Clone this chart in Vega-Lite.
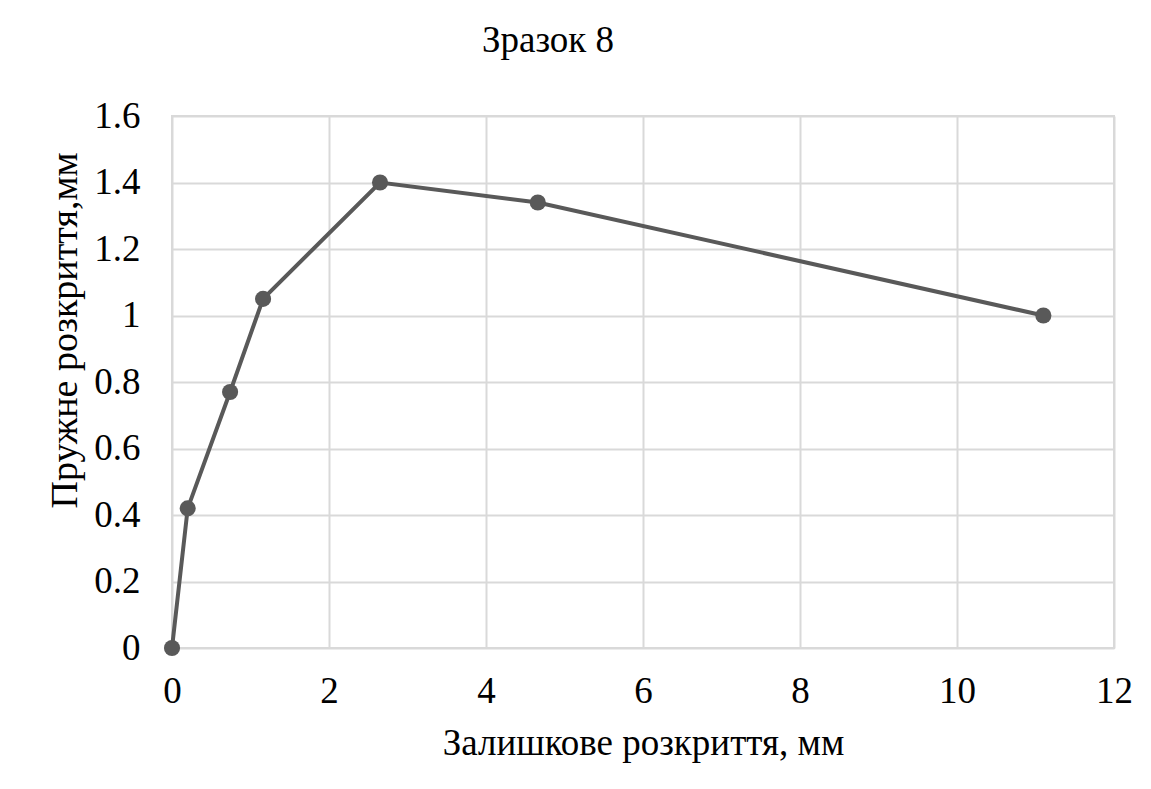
{
  "$schema": "https://vega.github.io/schema/vega-lite/v6.json",
  "autosize": {"type": "none"},
  "width": 942,
  "height": 532,
  "padding": {"left": 172, "top": 116, "right": 37, "bottom": 141},
  "background": "white",
  "title": {
    "text": "Зразок 8",
    "font": "'Liberation Serif', 'Times New Roman', serif",
    "fontSize": 37,
    "fontWeight": "normal",
    "color": "#000000",
    "anchor": "middle",
    "dx": -95,
    "offset": 37
  },
  "data": {
    "values": [
      {"x": 0, "y": 0},
      {"x": 0.2, "y": 0.42},
      {"x": 0.74, "y": 0.77},
      {"x": 1.16, "y": 1.05},
      {"x": 2.65, "y": 1.40},
      {"x": 4.66, "y": 1.34},
      {"x": 11.1, "y": 1.0}
    ]
  },
  "mark": {
    "type": "line",
    "color": "#595959",
    "strokeWidth": 4,
    "point": {"filled": true, "size": 260, "color": "#595959", "opacity": 1}
  },
  "encoding": {
    "x": {
      "field": "x",
      "type": "quantitative",
      "scale": {"domain": [0, 12], "nice": false, "zero": true},
      "axis": {
        "values": [0, 2, 4, 6, 8, 10, 12],
        "title": "Залишкове розкриття, мм",
        "titleFont": "'Liberation Serif', 'Times New Roman', serif",
        "titleFontSize": 37,
        "titleFontWeight": "normal",
        "titleColor": "#000000",
        "titlePadding": 16,
        "labelFont": "'Liberation Serif', 'Times New Roman', serif",
        "labelFontSize": 37,
        "labelColor": "#000000",
        "labelPadding": 25,
        "labelFlush": false,
        "ticks": false,
        "domain": false,
        "grid": true,
        "gridColor": "#d9d9d9",
        "gridWidth": 2
      }
    },
    "y": {
      "field": "y",
      "type": "quantitative",
      "scale": {"domain": [0, 1.6], "nice": false},
      "axis": {
        "values": [0, 0.2, 0.4, 0.6, 0.8, 1, 1.2, 1.4, 1.6],
        "format": "~g",
        "title": "Пружне розкриття,мм",
        "titleFont": "'Liberation Serif', 'Times New Roman', serif",
        "titleFontSize": 38,
        "titleFontWeight": "normal",
        "titleColor": "#000000",
        "titleY": 214,
        "titleX": -88,
        "labelFont": "'Liberation Serif', 'Times New Roman', serif",
        "labelFontSize": 37,
        "labelColor": "#000000",
        "labelPadding": 32,
        "labelFlush": false,
        "ticks": false,
        "domain": false,
        "grid": true,
        "gridColor": "#d9d9d9",
        "gridWidth": 2
      }
    }
  },
  "config": {
    "view": {"stroke": "#d9d9d9", "strokeWidth": 2}
  }
}
